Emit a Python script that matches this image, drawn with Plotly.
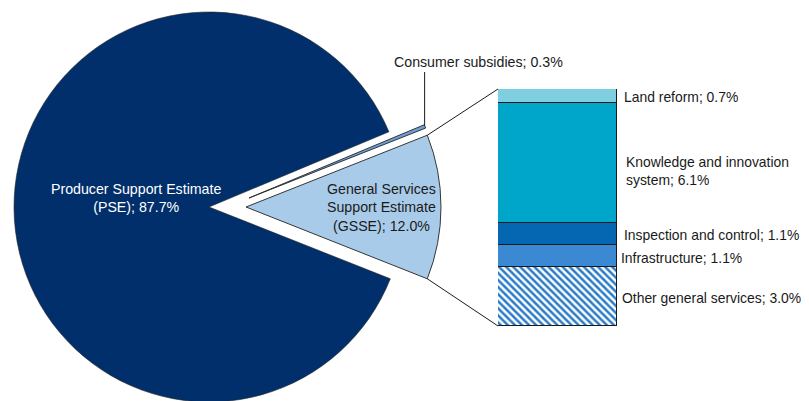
import math
import plotly.graph_objects as go

# ---------------- data ----------------
pie_labels = ["General Services Support Estimate (GSSE)", "Producer Support Estimate (PSE)", "Consumer subsidies"]
pie_values = [12.0, 87.7, 0.3]
pie_colors = ["#A9CBEA", "#002F6C", "#6C9FD6"]

bar_labels = ["Other general services", "Infrastructure", "Inspection and control",
              "Knowledge and innovation system", "Land reform"]
bar_values = [3.0, 1.1, 1.1, 6.1, 0.7]
bar_colors = ["#FFFFFF", "#3B88D3", "#0566B2", "#00A6C9", "#7FCFE1"]

W, H = 809, 401
OFF = 8  # page body margin
FONT = "Liberation Sans, Arial, sans-serif"
FS = 14.2
FS_R = 13.9

def clamp(v):
    return max(0.0, min(1.0, v))

def px2x(px):
    return clamp((px - OFF) / W)

def px2y(py):
    return clamp(1 - (py - OFF) / H)

# pie geometry (layout, in viewport pixels): GSSE, PSE, consumer
radii = [195, 195, 190]
centers = [(246, 207), (209, 207), (249, 198)]
rotation = 90 - pie_values[0] * 3.6 / 2

fig = go.Figure()
order = [1, 0, 2]
for k in order:
    cx, cy = centers[k]
    R = radii[k]
    cols = ["rgba(0,0,0,0)"] * 3
    cols[k] = pie_colors[k]
    lw = [0, 0, 0]
    lw[k] = 0.9 if k != 1 else 0.6
    fig.add_trace(go.Pie(
        labels=pie_labels, values=pie_values, sort=False, direction="clockwise",
        rotation=rotation, textinfo="none", hoverinfo="label+percent",
        marker=dict(colors=cols, line=dict(color="#222222", width=lw)),
        domain=dict(x=[px2x(cx - R), px2x(cx + R)], y=[px2y(cy + R), px2y(cy - R)]),
        showlegend=False,
    ))

# stacked bar
for lab, val, col in zip(bar_labels, bar_values, bar_colors):
    pat = None
    if lab == "Other general services":
        pat = dict(shape="\\", fgcolor="#2A7CC9", bgcolor="#FFFFFF", size=5, solidity=0.5, fillmode="replace")
    fig.add_trace(go.Bar(
        x=[0], y=[val], name=lab, width=1,
        marker=dict(color=col, line=dict(color="#1a1a1a", width=1), pattern=pat),
        showlegend=False, hoverinfo="name+y",
    ))

bar_x0, bar_x1 = 498, 617
bar_top, bar_bot = 89, 326
fig.update_layout(
    width=W, height=H, margin=dict(l=0, r=0, t=0, b=0),
    paper_bgcolor="white", plot_bgcolor="rgba(0,0,0,0)",
    barmode="stack", bargap=0,
    xaxis=dict(domain=[px2x(bar_x0), px2x(bar_x1)], range=[-0.5, 0.5], visible=False, fixedrange=True),
    yaxis=dict(domain=[px2y(bar_bot), px2y(bar_top)], range=[0, sum(bar_values)], visible=False, fixedrange=True),
    font=dict(family=FONT, size=FS, color="#1a1a1a"),
)

# connector lines from GSSE corners to bar corners
half = pie_values[0] * 3.6 / 2 * math.pi / 180
gcx, gcy = centers[0]
R0 = radii[0]
top_corner = (gcx + R0 * math.cos(half), gcy - R0 * math.sin(half))
bot_corner = (gcx + R0 * math.cos(half), gcy + R0 * math.sin(half))
fig.add_shape(type="line", xref="paper", yref="paper",
              x0=px2x(top_corner[0]), y0=px2y(top_corner[1]), x1=px2x(bar_x0), y1=px2y(bar_top),
              line=dict(color="#1a1a1a", width=1))
fig.add_shape(type="line", xref="paper", yref="paper",
              x0=px2x(bot_corner[0]), y0=px2y(bot_corner[1]), x1=px2x(bar_x0), y1=px2y(bar_bot),
              line=dict(color="#1a1a1a", width=1))

# consumer subsidies leader line
ccx, ccy = centers[2]
R2 = radii[2]
a_mid = (half + pie_values[2] * 3.6 / 2 * math.pi / 180)
tip = (ccx + R2 * math.cos(a_mid + 0.005), ccy - R2 * math.sin(a_mid + 0.005))
fig.add_shape(type="line", xref="paper", yref="paper",
              x0=px2x(tip[0]), y0=px2y(tip[1]), x1=px2x(tip[0]), y1=px2y(72),
              line=dict(color="#1a1a1a", width=1))

def ann(text, x, y, xanchor="left", color="#1a1a1a", align="left", size=FS):
    fig.add_annotation(text=text, x=px2x(x), y=px2y(y), xref="paper", yref="paper",
                       xanchor=xanchor, yanchor="middle", showarrow=False, align=align,
                       font=dict(family=FONT, size=size, color=color))

ann("Producer Support Estimate<br>(PSE); 87.7%", 136, 198, "center", "#FFFFFF", "center")
ann("General Services<br>Support Estimate<br>(GSSE); 12.0%", 381, 207, "center", "#1a1a1a", "center")
ann("Consumer subsidies; 0.3%", 392, 62)
ann("Land reform; 0.7%", 622, 97, size=FS_R)
ann("Knowledge and innovation<br>system; 6.1%", 624, 171, size=FS_R)
ann("Inspection and control; 1.1%", 622, 235, size=FS_R)
ann("Infrastructure; 1.1%", 619, 258, size=FS_R)
ann("Other general services; 3.0%", 620, 298, size=FS_R)

fig.write_html("out.html")
